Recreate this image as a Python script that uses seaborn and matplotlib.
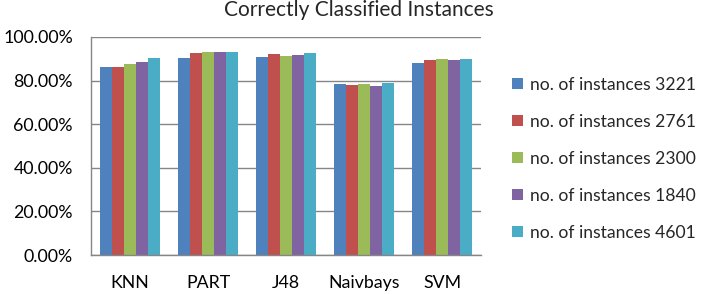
import numpy as np
import pandas as pd
import seaborn as sns
import matplotlib.pyplot as plt
from matplotlib.ticker import FuncFormatter

sns.set_style("white")
plt.rcParams["font.family"] = ["Lato", "DejaVu Sans"]

classifiers = ["KNN", "PART", "J48", "Naivbays", "SVM"]
series = ["no. of instances 3221", "no. of instances 2761", "no. of instances 2300",
          "no. of instances 1840", "no. of instances 4601"]
acc_3221 = [86.4, 90.5, 91.0, 78.6, 88.2]
acc_2761 = [86.4, 92.8, 92.4, 78.1, 89.6]
acc_2300 = [87.8, 93.3, 91.4, 78.6, 90.1]
acc_1840 = [88.7, 93.3, 91.9, 77.7, 89.6]
acc_4601 = [90.5, 93.3, 92.8, 79.1, 90.1]
colors = ["#4F81BD", "#C0504D", "#9BBB59", "#8064A2", "#4BACC6"]

rows = []
for name, vals in zip(series, [acc_3221, acc_2761, acc_2300, acc_1840, acc_4601]):
    for clf, v in zip(classifiers, vals):
        rows.append({"Classifier": clf, "Series": name, "Accuracy": v})
df = pd.DataFrame(rows)

fig = plt.figure(figsize=(7.17, 2.94), dpi=100)
ax = fig.add_axes([91 / 717, 1 - 255 / 294, 390 / 717, 218 / 294])

sns.barplot(data=df, x="Classifier", y="Accuracy", hue="Series", hue_order=series,
            order=classifiers, palette=colors, saturation=1, width=0.76, gap=0,
            edgecolor="none", linewidth=0, errorbar=None, ax=ax, legend=True)

ax.set_ylim(0, 100)
ax.set_xlim(-0.5, 4.5)
ax.set_yticks(np.arange(0, 101, 20))
ax.yaxis.set_major_formatter(FuncFormatter(lambda v, p: f"{v:.2f}%"))
ax.yaxis.grid(True, color="#868686", linewidth=1)
ax.set_axisbelow(True)
ax.set_xlabel("")
ax.set_ylabel("")
for s in ["top", "right"]:
    ax.spines[s].set_visible(False)
for s in ["left", "bottom"]:
    ax.spines[s].set_color("#868686")
    ax.spines[s].set_linewidth(1)
ax.tick_params(axis="both", length=0, labelsize=12.8, colors="black")
ax.tick_params(axis="x", pad=14.5)
ax.tick_params(axis="y", pad=13)

handles, labels = ax.get_legend_handles_labels()
ax.get_legend().remove()
fig.legend(handles, labels, loc="upper left", bbox_to_anchor=(512 / 717, 1 - 77 / 294),
           frameon=False, fontsize=12.6, handlelength=0.6, handleheight=0.6,
           handletextpad=0.4, labelspacing=1.2, borderaxespad=0, borderpad=0)

fig.text(0.5, 1 - 10 / 294, "Correctly Classified Instances", ha="center", va="center",
         fontsize=15)

plt.savefig("out.png", dpi=100)
plt.close()
